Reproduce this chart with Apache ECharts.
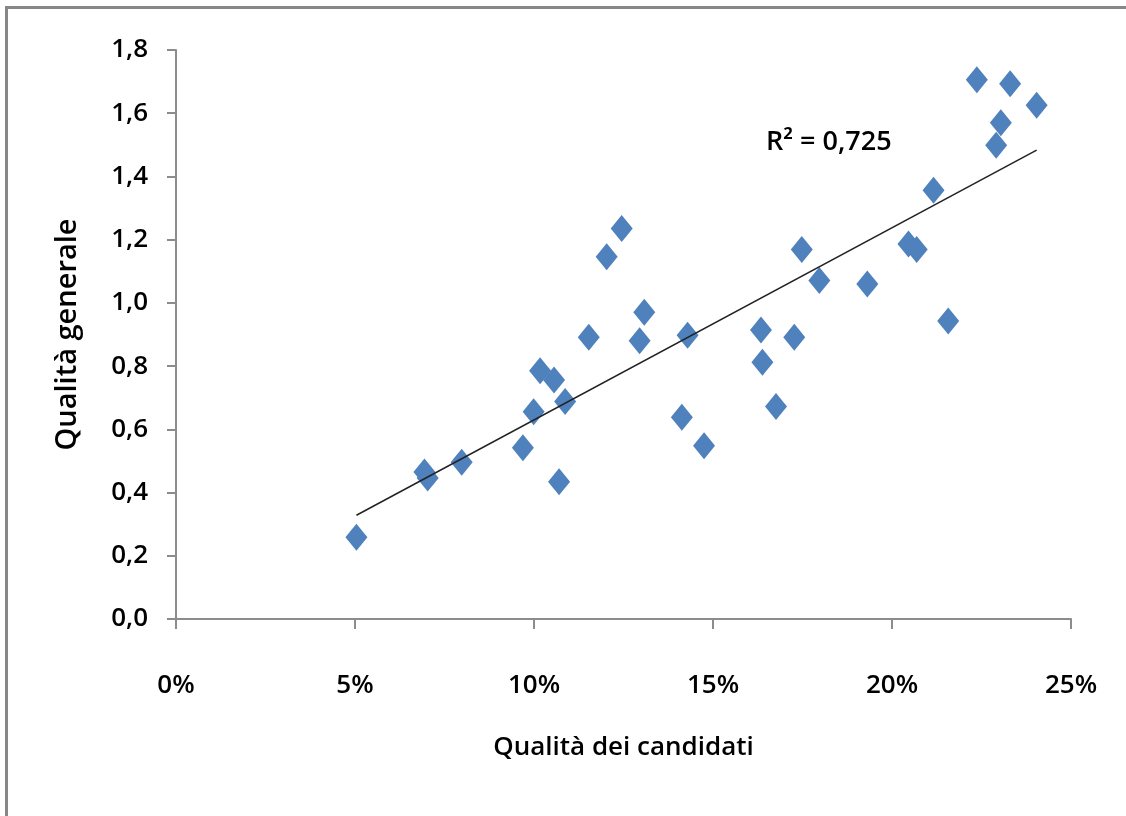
<!DOCTYPE html>
<html>
<head>
<meta charset="utf-8">
<script src="https://cdn.jsdelivr.net/npm/echarts@6/dist/echarts.min.js"></script>
<style>
  html, body { margin: 0; padding: 0; background: #fff; }
  #frame { position: absolute; left: 5px; top: 6px; width: 1121px; height: 810px;
           border-left: 3px solid #878787; border-top: 3px solid #878787; }
  #main { position: absolute; left: 0; top: 0; width: 1126px; height: 816px; }
</style>
</head>
<body>
<div id="frame"></div>
<div id="main"></div>
<script>
// Qualità dei candidati (%), Qualità generale
const candidati = [5.04, 6.94, 7.03, 7.98, 9.69, 10.70, 9.99, 10.17, 10.56, 10.87,
  11.53, 12.03, 12.45, 13.08, 12.95, 14.29, 14.13, 14.75, 16.34, 16.38,
  17.27, 16.76, 17.48, 17.97, 19.31, 20.46, 20.69, 21.16, 21.57, 22.37,
  23.30, 24.04, 23.04, 22.91];
const generale = [0.259, 0.465, 0.446, 0.496, 0.542, 0.434, 0.656, 0.785, 0.756, 0.688,
  0.891, 1.146, 1.235, 0.970, 0.880, 0.898, 0.638, 0.548, 0.914, 0.812,
  0.891, 0.672, 1.169, 1.071, 1.060, 1.186, 1.169, 1.356, 0.943, 1.706,
  1.693, 1.625, 1.570, 1.499];
const xTicks = [0, 5, 10, 15, 20, 25];
const rSquaredLabel = 'R² = 0,725';

const points = candidati.map((x, i) => [x, generale[i]]);

// linear trend line (least squares), like the spreadsheet one
const n = points.length;
const mx = candidati.reduce((a, b) => a + b, 0) / n;
const my = generale.reduce((a, b) => a + b, 0) / n;
let sxy = 0, sxx = 0;
points.forEach(([x, y]) => { sxy += (x - mx) * (y - my); sxx += (x - mx) * (x - mx); });
const slope = sxy / sxx;
const icpt = my - slope * mx;
const xMin = Math.min(...candidati), xMax = Math.max(...candidati);
const trend = [[xMin, icpt + slope * xMin], [xMax, icpt + slope * xMax]];

const font = '"Open Sans", sans-serif';
const chart = echarts.init(document.getElementById('main'));
chart.setOption({
  animation: false,
  grid: { left: 176, right: 55, top: 50, bottom: 197 },
  xAxis: {
    type: 'value', min: 0, max: 25, interval: 5,
    name: 'Qualità dei candidati', nameLocation: 'middle', nameGap: 116,
    nameTextStyle: { fontFamily: font, fontSize: 26, fontWeight: 600, color: '#000' },
    axisLine: { lineStyle: { color: '#8c8c8c', width: 2 } },
    axisTick: { show: true, length: 10, lineStyle: { color: '#8c8c8c', width: 2 } },
    axisLabel: { margin: 54, fontFamily: font, fontSize: 26, fontWeight: 600, color: '#000',
      formatter: v => xTicks.includes(v) ? v + '%' : '' },
    splitLine: { show: false }
  },
  yAxis: {
    type: 'value', min: 0, max: 1.8, interval: 0.2,
    name: 'Qualità generale', nameLocation: 'middle', nameGap: 94,
    nameTextStyle: { fontFamily: font, fontSize: 29, fontWeight: 600, color: '#000' },
    axisLine: { show: true, lineStyle: { color: '#8c8c8c', width: 2 } },
    axisTick: { show: true, length: 9, lineStyle: { color: '#8c8c8c', width: 2 } },
    axisLabel: { margin: 28, fontFamily: font, fontSize: 26, fontWeight: 600, color: '#000',
      formatter: v => v.toFixed(1).replace('.', ',') },
    splitLine: { show: false }
  },
  series: [
    {
      type: 'line', data: trend, symbol: 'none', z: 3,
      lineStyle: { color: '#222', width: 1.5 }
    },
    {
      type: 'scatter', data: points, symbol: 'diamond', symbolSize: [22, 27], z: 2,
      itemStyle: { color: '#4f81bd', opacity: 1 }
    }
  ],
  graphic: [{
    type: 'text', left: 766, top: 129,
    style: { text: rSquaredLabel, fontFamily: font, fontSize: 27, fontWeight: 600, fill: '#000' }
  }]
});
</script>
</body>
</html>
